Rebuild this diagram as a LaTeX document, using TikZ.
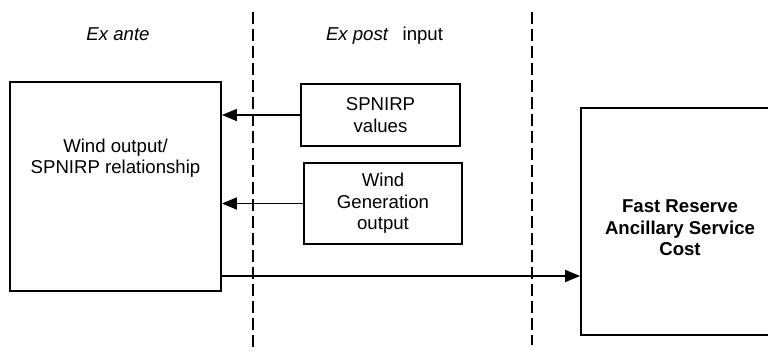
\documentclass[tikz,border=0pt]{standalone}
\usepackage{fontspec}
\setmainfont{Liberation Sans}
\usetikzlibrary{arrows.meta}
\begin{document}
\begin{tikzpicture}[x=1pt,y=-1pt,
  every node/.style={font=\fontsize{18.6}{21.5}\selectfont},
  box/.style={draw=black,line width=1.8pt,inner sep=0pt},
  txt/.style={inner sep=0pt,align=center},
  arr/.style={line width=1.4pt,-{Triangle[length=15pt,width=12pt]}},
  divider/.style={line width=2pt,dash pattern=on 12pt off 5pt}]
\useasboundingbox (0,0) rectangle (768,353);
\clip (0,0) rectangle (768,353);
% dividers
\coordinate (d1t) at (253,12);
\coordinate (d1b) at (253,350);
\coordinate (d2t) at (532,12);
\coordinate (d2b) at (532,345);
\draw[divider] (d1t) -- (d1b);
\draw[divider] (d2t) -- (d2b);
% headings
\node[txt] (exante) at (118,34) {\itshape Ex ante};
\node[txt] (expost) at (384.5,36) {\textit{Ex post}\hspace{14pt}input};
% boxes
\node[box,minimum width=211pt,minimum height=209pt] (left) at (115.5,186.5) {};
\node[txt] (lefttxt) at (115.5,158) {Wind output/\\SPNIRP relationship};
\node[box,minimum width=159pt,minimum height=62pt,txt] (spn) at (380.5,115) {SPNIRP\\values};
\node[box,minimum width=158pt,minimum height=81pt,txt] (wind) at (383,203.5) {Wind\\Generation\\output};
\node[box,minimum width=198pt,minimum height=227pt] (fr) at (680,221.5) {};
\node[txt,font=\fontsize{18.6}{21.5}\selectfont\bfseries] (frtxt) at (680,228) {Fast Reserve\\Ancillary Service\\Cost};
% connectors
\coordinate (bot) at (400,276);
\draw[arr] (spn.west) -- (spn.west -| left.east);
\draw[arr] (wind.west) -- (wind.west -| left.east);
\draw[arr] (left.east |- bot) -- (bot -| fr.west);
\end{tikzpicture}
\end{document}
